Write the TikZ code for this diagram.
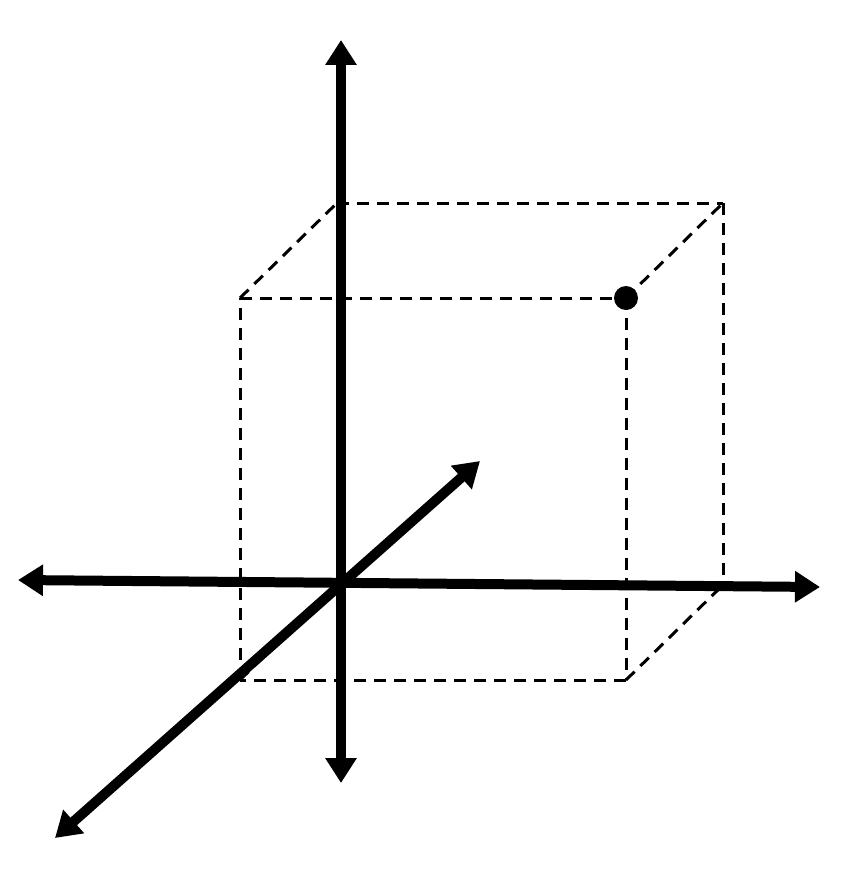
\documentclass[tikz,border=0pt]{standalone}
\usetikzlibrary{arrows.meta}
\begin{document}
\begin{tikzpicture}[x=0.02cm, y=-0.02cm,
    axis/.style={black, line width=0.2cm, {Triangle[length=0.5cm,width=0.6cm]}-{Triangle[length=0.5cm,width=0.6cm]}},
    edge/.style={black, line width=0.06cm, dash pattern=on 0.24cm off 0.16cm}]
                      \useasboundingbox (0,0) rectangle (840,883);

                      % front face corners
                      \coordinate (ftl) at (240,298);
                      \coordinate (ftr) at (626,298);
                      \coordinate (fbl) at (240,680);
                      \coordinate (fbr) at (626,680);
                      % back face corners
                      \coordinate (btl) at (337,203);
                      \coordinate (btr) at (723,203);
                      \coordinate (bbl) at (337,585);
                      \coordinate (bbr) at (723,585);

                      \foreach \a/\b in {ftl/ftr, ftr/fbr, fbr/fbl, fbl/ftl, btl/btr, btr/bbr, bbr/bbl, bbl/btl, ftl/btl, ftr/btr, fbr/bbr, fbl/bbl} {
                              \draw[edge] (\a) -- (\b);
                          }

                      \coordinate (xl) at (18,580);
                      \coordinate (xr) at (820,587);
                      \coordinate (yt) at (341,40);
                      \coordinate (yb) at (341,783);
                      \coordinate (zf) at (55,838);
                      \coordinate (zb) at (480,461);

                      \draw[axis] (xl) -- (xr);
                      \draw[axis] (yb) -- (yt);
                      \draw[axis] (zf) -- (zb);

                      \node[circle, fill=black, inner sep=0pt, minimum size=0.48cm] (pt) at (ftr) {};

                  \end{tikzpicture}
\end{document}
